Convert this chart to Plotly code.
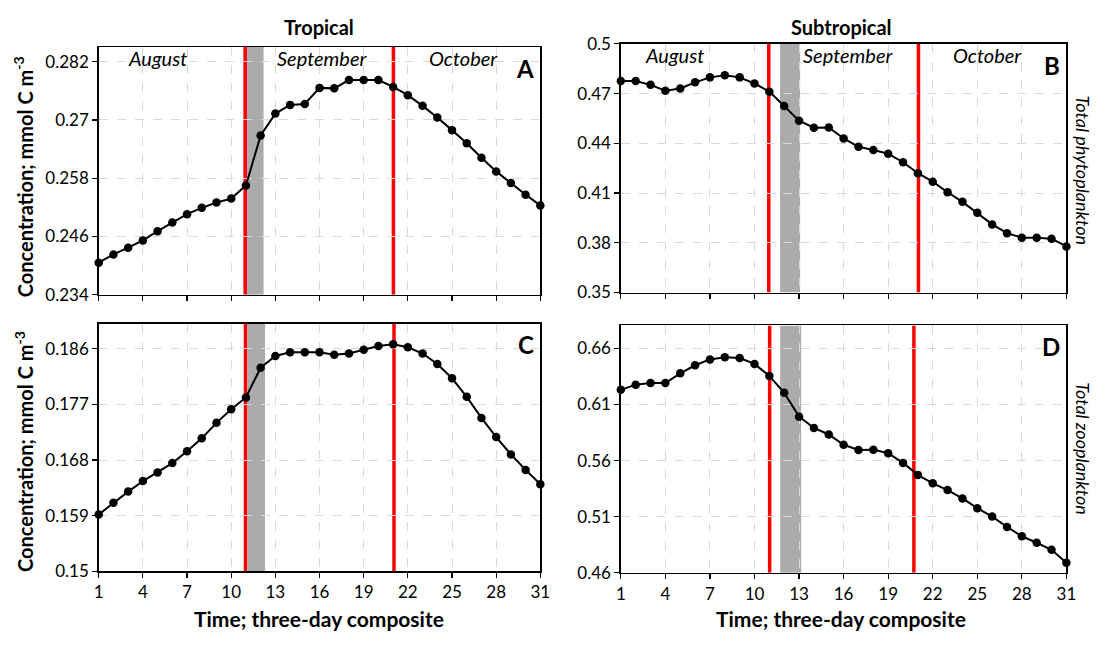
import plotly.graph_objects as go

# ---------------- data ----------------
time = list(range(1, 32))

trop_phyto = [0.2406, 0.2423, 0.2437, 0.2452, 0.2471, 0.2489, 0.2506, 0.2519, 0.2530, 0.2538,
              0.2565, 0.2668, 0.2713, 0.2731, 0.2733, 0.2766, 0.2765, 0.2782, 0.2782, 0.2782,
              0.2768, 0.2751, 0.2729, 0.2705, 0.2679, 0.2652, 0.2622, 0.2594, 0.2570, 0.2546,
              0.2524]
subtrop_phyto = [0.4776, 0.4776, 0.4753, 0.4718, 0.4731, 0.4768, 0.4798, 0.4811, 0.4798, 0.4761,
                 0.4712, 0.4625, 0.4537, 0.4494, 0.4496, 0.4430, 0.4379, 0.4360, 0.4337, 0.4286,
                 0.4220, 0.4169, 0.4105, 0.4047, 0.3981, 0.3911, 0.3858, 0.3831, 0.3831, 0.3825,
                 0.3778]
trop_zoo = [0.1592, 0.1611, 0.1629, 0.1646, 0.1660, 0.1675, 0.1694, 0.1715, 0.1740, 0.1762,
            0.1781, 0.1829, 0.1848, 0.1854, 0.1854, 0.1854, 0.1850, 0.1852, 0.1858, 0.1864,
            0.1867, 0.1862, 0.1852, 0.1835, 0.1812, 0.1782, 0.1748, 0.1717, 0.1689, 0.1664,
            0.1641]
subtrop_zoo = [0.6231, 0.6277, 0.6292, 0.6292, 0.6378, 0.6450, 0.6502, 0.6522, 0.6514, 0.6462,
               0.6355, 0.6205, 0.5992, 0.5891, 0.5833, 0.5741, 0.5695, 0.5698, 0.5666, 0.5580,
               0.5473, 0.5398, 0.5338, 0.5263, 0.5176, 0.5101, 0.5009, 0.4926, 0.4868, 0.4805,
               0.4689]

x_ticks = [1, 4, 7, 10, 13, 16, 19, 22, 25, 28, 31]
ticks_A = [0.234, 0.246, 0.258, 0.27, 0.282]
ticks_B = [0.35, 0.38, 0.41, 0.44, 0.47, 0.5]
ticks_C = [0.15, 0.159, 0.168, 0.177, 0.186]
ticks_D = [0.46, 0.51, 0.56, 0.61, 0.66]

# event markers (red lines) and shaded periods per panel
red_A = [10.95, 21.02]
red_B = [10.96, 21.04]
red_C = [10.97, 21.06]
red_D = [11.02, 20.73]
shade_A = [11.0, 12.2]
shade_B = [11.72, 13.07]
shade_C = [11.1, 12.3]
shade_D = [11.73, 13.14]

months = ["August", "September", "October"]
month_x_left = [5.0, 16.2, 25.8]
month_x_right = [4.6, 16.3, 25.7]

FONT = "Lato"

panels = [
    ("A", trop_phyto, ticks_A, [0.234, 0.285], [95 / 1106, 542.7 / 1106], [1 - 293.3 / 646, 1 - 37.3 / 646], red_A, shade_A, False),
    ("B", subtrop_phyto, ticks_B, [0.35, 0.5], [624.3 / 1106, 1076 / 1106], [1 - 291 / 646, 1 - 34 / 646], red_B, shade_B, False),
    ("C", trop_zoo, ticks_C, [0.15, 0.19], [95 / 1106, 542.7 / 1106], [1 - 579.3 / 646, 1 - 323.3 / 646], red_C, shade_C, True),
    ("D", subtrop_zoo, ticks_D, [0.46, 0.6805], [624.3 / 1106, 1076 / 1106], [1 - 580.7 / 646, 1 - 325 / 646], red_D, shade_D, True),
]

fig = go.Figure()
shapes = []
annotations = []
layout_axes = {}


def ann(text, x, y, size, xref="paper", yref="paper", angle=0, xanchor="center"):
    return dict(text=text, x=x, y=y, xref=xref, yref=yref, textangle=angle,
                xanchor=xanchor, yanchor="middle", showarrow=False,
                font=dict(family=FONT, size=size, color="black"))


for i, (name, yvals, yt, yr, xd, yd, red, shade, showx) in enumerate(panels):
    n = "" if i == 0 else str(i + 1)
    xa, ya = "x" + n, "y" + n
    fig.add_trace(go.Scatter(
        x=time, y=yvals, xaxis=xa, yaxis=ya, mode="lines+markers",
        line=dict(color="black", width=2),
        marker=dict(color="black", size=8.5),
        showlegend=False, cliponaxis=False, hoverinfo="skip",
    ))
    common_axis = dict(
        showline=True, linecolor="black", linewidth=1.5, mirror=True,
        ticks="outside", ticklen=5, tickcolor="black", tickwidth=1.2,
        showgrid=True, gridcolor="#D9D9D9", griddash="dash", gridwidth=1,
        zeroline=False, tickfont=dict(family=FONT, size=17, color="black"),
    )
    layout_axes["xaxis" + n] = dict(domain=xd, range=[1, 31], tickvals=x_ticks,
                                    showticklabels=showx, anchor=ya, **common_axis)
    layout_axes["yaxis" + n] = dict(domain=yd, range=yr, tickvals=yt,
                                    ticktext=[("%g" % v) for v in yt], anchor=xa, **common_axis)
    shapes.append(dict(type="rect", xref=xa, yref=ya, x0=shade[0], x1=shade[1],
                       y0=yr[0], y1=yr[1], fillcolor="#ABABAB", line=dict(width=0), layer="below"))
    for rx in red:
        shapes.append(dict(type="line", xref=xa, yref=ya, x0=rx, x1=rx, y0=yr[0], y1=yr[1],
                           line=dict(color="#FF0000", width=3.5), layer="below"))
    annotations.append(ann("<b>%s</b>" % name, 30.7, yr[0] + 0.915 * (yr[1] - yr[0]), 24,
                           xref=xa, yref=ya, xanchor="right"))
    if i < 2:
        mx = month_x_left if i == 0 else month_x_right
        for m, xx in zip(months, mx):
            annotations.append(ann("<i>%s</i>" % m, xx, yr[0] + 0.955 * (yr[1] - yr[0]), 20,
                                   xref=xa, yref=ya))

# column titles
annotations.append(ann("<b>Tropical</b>", 318 / 1106, 1 - 17 / 646, 20))
annotations.append(ann("<b>Subtropical</b>", 848 / 1106, 1 - 17 / 646, 20))
# y titles
for yc in [171, 455]:
    annotations.append(ann("<b>Concentration; mmol C m<sup>-3</sup></b>", 19 / 1106, 1 - yc / 646,
                           20, angle=-90))
# right titles
annotations.append(ann("<i>Total phytoplankton</i>", 1093 / 1106, 1 - 165 / 646, 18, angle=90))
annotations.append(ann("<i>Total zooplankton</i>", 1093 / 1106, 1 - 452 / 646, 18, angle=90))
# x titles
for xc in [318, 848]:
    annotations.append(ann("<b>Time; three-day composite</b>", xc / 1106, 1 - 628 / 646, 21))

fig.update_layout(
    width=1106, height=646, margin=dict(l=0, r=0, t=0, b=0),
    paper_bgcolor="white", plot_bgcolor="white",
    shapes=shapes, annotations=annotations,
    font=dict(family=FONT, color="black"),
    hovermode=False,
    **layout_axes,
)

fig.write_html("out.html", config={"displayModeBar": False, "staticPlot": True},
               post_script="document.body.style.margin='0px';")
